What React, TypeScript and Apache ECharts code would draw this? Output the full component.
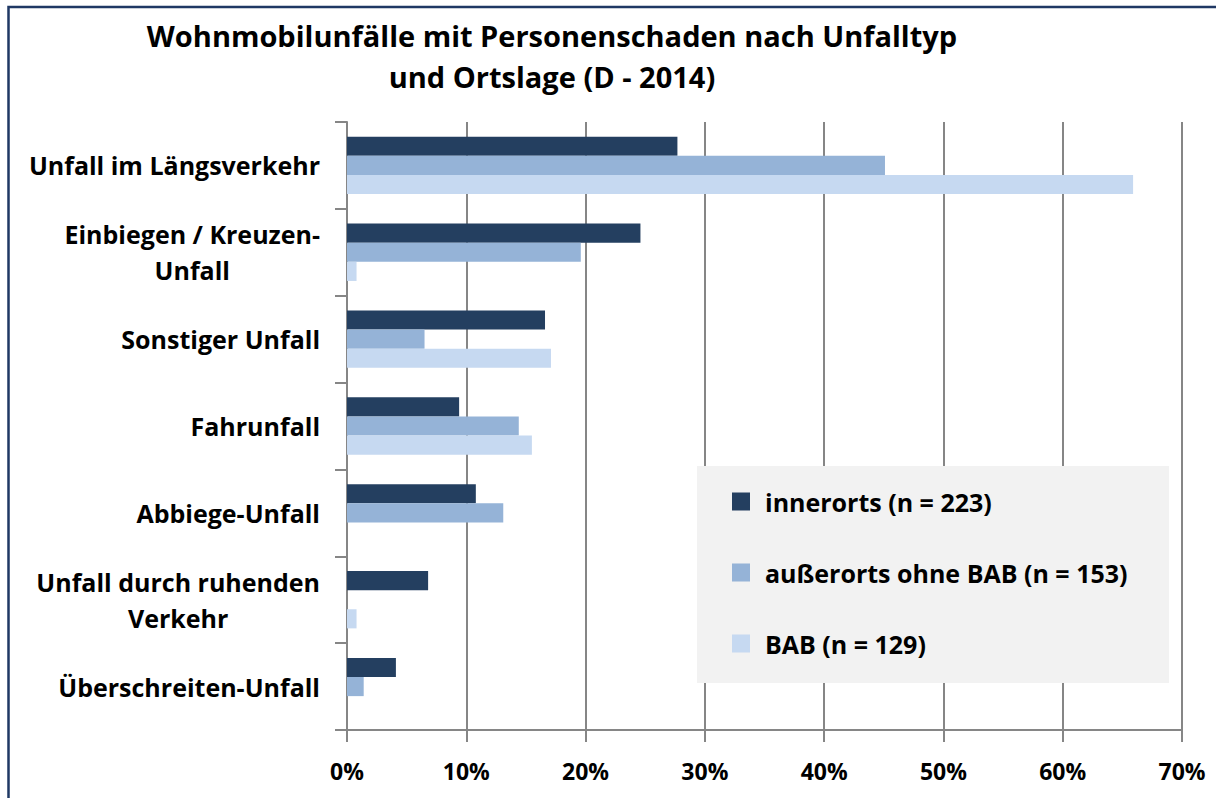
import React, { useEffect, useRef } from "react";
import * as echarts from "echarts";

const categories = [
  "Unfall im Längsverkehr",
  "Einbiegen / Kreuzen-\nUnfall",
  "Sonstiger Unfall",
  "Fahrunfall",
  "Abbiege-Unfall",
  "Unfall durch ruhenden\nVerkehr",
  "Überschreiten-Unfall",
];
const seriesNames = ["innerorts (n = 223)", "außerorts ohne BAB (n = 153)", "BAB (n = 129)"];
const innerorts = [27.7, 24.6, 16.6, 9.4, 10.8, 6.8, 4.1];
const ausserorts = [45.1, 19.6, 6.5, 14.4, 13.1, 0, 1.4];
const bab = [65.9, 0.8, 17.1, 15.5, 0, 0.8, 0];
const xTicks = [0, 10, 20, 30, 40, 50, 60, 70];
const colors = ["#243f60", "#95b3d7", "#c6d9f1"];
const titleText = "Wohnmobilunfälle mit Personenschaden nach Unfalltyp\nund Ortslage (D - 2014)";

const FONT = "Open Sans";

export default function App() {
  const ref = useRef<HTMLDivElement>(null);
  useEffect(() => {
    if (!ref.current) return;
    const chart = echarts.init(ref.current, null, { renderer: "svg" });
    const data = [innerorts, ausserorts, bab];
    chart.setOption({
      animation: false,
      backgroundColor: "#ffffff",
      title: {
        text: titleText,
        left: 552,
        top: 15,
        padding: 0,
        textAlign: "center",
        textStyle: { fontFamily: FONT, fontWeight: "bold", fontSize: 29, lineHeight: 41, color: "#000" },
      },
      graphic: [
        {
          type: "rect",
          shape: { x: 8.5, y: 7, width: 1400, height: 1000 },
          style: { fill: "none", stroke: "#1f3864", lineWidth: 2.5 },
          z: 10,
          silent: true,
        },
        {
          type: "rect",
          shape: { x: 697, y: 466, width: 472, height: 217 },
          style: { fill: "#f2f2f2" },
          z: 3,
          silent: true,
        },
      ],
      legend: {
        orient: "vertical",
        left: 727,
        top: 484,
        itemGap: 46,
        itemWidth: 18,
        itemHeight: 18,
        icon: "rect",
        z: 5,
        textStyle: { fontFamily: FONT, fontWeight: "bold", fontSize: 25, lineHeight: 24, color: "#000", padding: [0, 0, 0, 10] },
        data: seriesNames,
      },
      grid: { left: 347, right: 34, top: 122, bottom: 68, containLabel: false },
      xAxis: {
        type: "value",
        min: xTicks[0],
        max: xTicks[xTicks.length - 1],
        interval: 10,
        axisLine: { show: true, lineStyle: { color: "#868686", width: 2 } },
        axisTick: { show: true, length: 12, lineStyle: { color: "#868686", width: 2 } },
        splitLine: { show: true, lineStyle: { color: "#868686", width: 2 } },
        axisLabel: {
          formatter: (v: number) => `${v}%`,
          fontFamily: FONT,
          fontWeight: "bold",
          fontSize: 23,
          color: "#000",
          margin: 29,
        },
      },
      yAxis: {
        type: "category",
        inverse: true,
        data: categories,
        axisLine: { show: true, lineStyle: { color: "#868686", width: 2 } },
        axisTick: { show: true, length: 12, lineStyle: { color: "#868686", width: 2 } },
        axisLabel: {
          margin: 27,
          align: "right",
          formatter: (v: string) => v.split("\n").map((l) => `{c|${l}}`).join("\n"),
          rich: {
            c: { align: "center", fontFamily: FONT, fontWeight: "bold", fontSize: 25, lineHeight: 36, color: "#000" },
          },
        },
      },
      series: data.map((d, i) => ({
        type: "bar",
        name: seriesNames[i],
        data: d,
        barGap: "0%",
        barCategoryGap: "34%",
        itemStyle: { color: colors[i] },
      })),
    });
    return () => chart.dispose();
  }, []);
  return <div ref={ref} style={{ position: "absolute", left: 0, top: 0, width: 1216, height: 798 }} />;
}
